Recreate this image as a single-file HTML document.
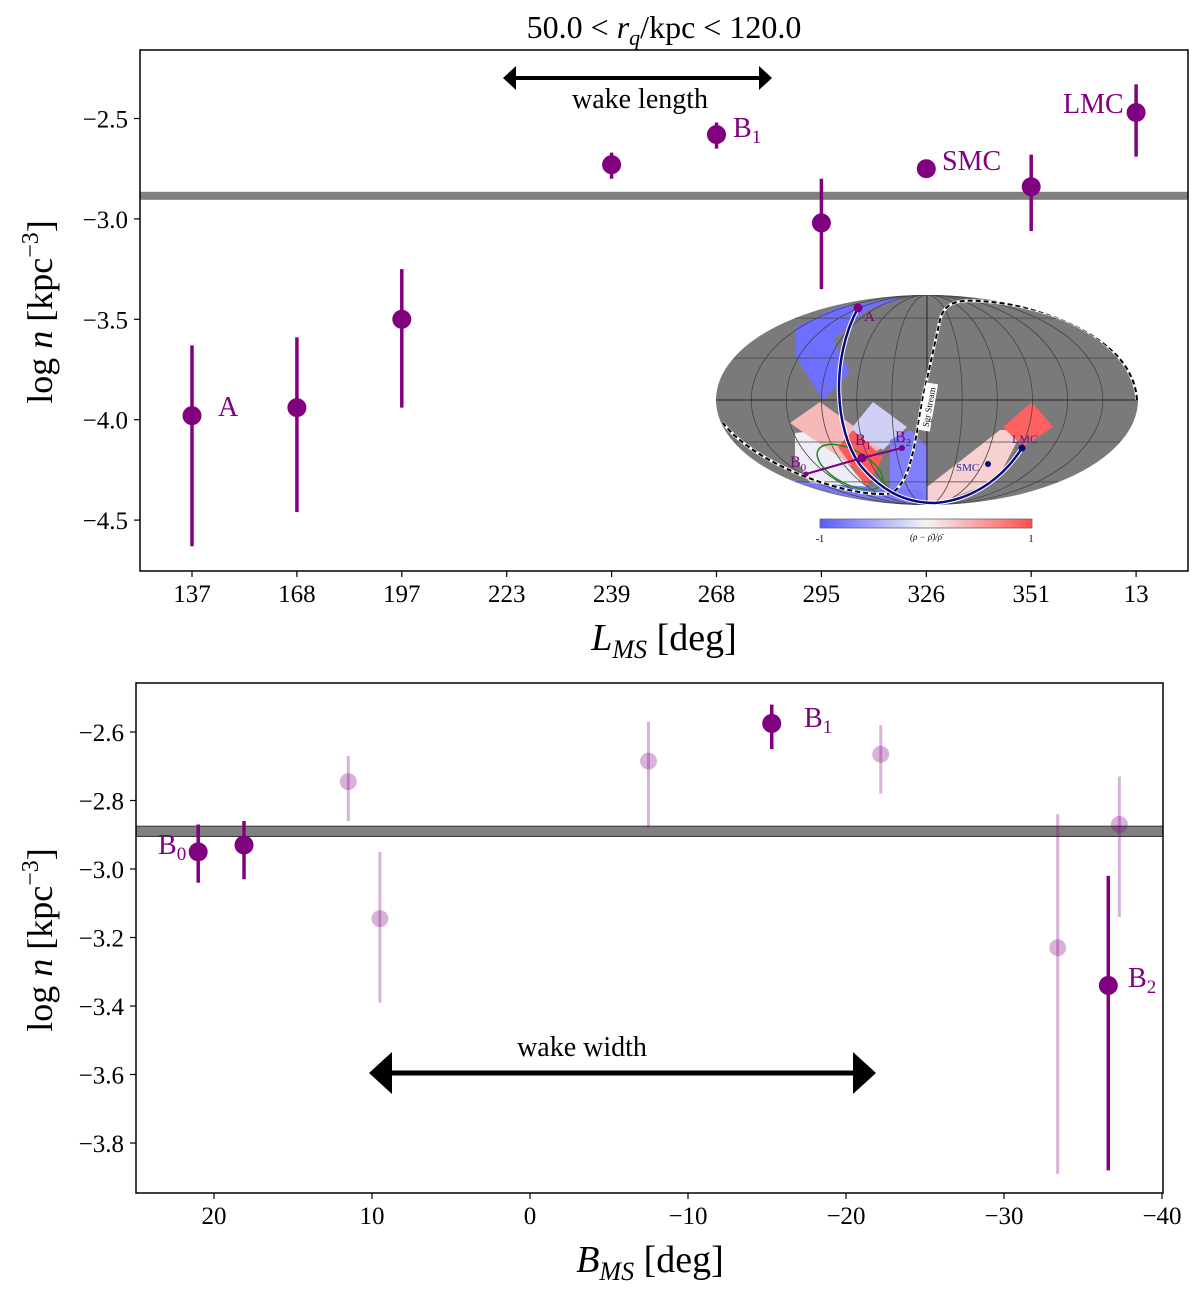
<!DOCTYPE html>
<html><head><meta charset="utf-8"><style>
body{margin:0;background:#fff;}
svg text{font-family:"Liberation Serif",serif;}
</style></head><body>
<svg id="fig" width="1200" height="1292" viewBox="0 0 1200 1292" xmlns="http://www.w3.org/2000/svg">
<g id="top"></g><g id="inset"></g><g id="bot"></g>
</svg>
<script>
// Top panel data
const topCats = ["137","168","197","223","239","268","295","326","351","13"];
const topIdx = [0,1,2,4,5,6,7,8,9];
const topVal = [-3.98,-3.94,-3.50,-2.73,-2.58,-3.02,-2.75,-2.84,-2.47];
const topHi  = [-3.63,-3.59,-3.25,-2.67,-2.52,-2.80,-2.75,-2.68,-2.33];
const topLo  = [-4.63,-4.46,-3.94,-2.80,-2.65,-3.35,-2.75,-3.06,-2.69];
const topYTicks = [-2.5,-3.0,-3.5,-4.0,-4.5];
const topYLabels = ["−2.5","−3.0","−3.5","−4.0","−4.5"];
const topBand = [-2.865,-2.905];
// Bottom panel data
const botB   = [21.0,18.1,-15.3,-36.6];
const botVal = [-2.95,-2.93,-2.575,-3.34];
const botHi  = [-2.87,-2.86,-2.52,-3.02];
const botLo  = [-3.04,-3.03,-2.65,-3.88];
const fadeB   = [11.5,9.5,-7.5,-22.2,-33.4,-37.3];
const fadeVal = [-2.745,-3.145,-2.685,-2.665,-3.23,-2.87];
const fadeHi  = [-2.67,-2.95,-2.57,-2.58,-2.84,-2.73];
const fadeLo  = [-2.86,-3.39,-2.88,-2.78,-3.89,-3.14];
const botXTicks = [20,10,0,-10,-20,-30,-40];
const botXLabels = ["20","10","0","−10","−20","−30","−40"];
const botYTicks = [-2.6,-2.8,-3.0,-3.2,-3.4,-3.6,-3.8];
const botYLabels = ["−2.6","−2.8","−3.0","−3.2","−3.4","−3.6","−3.8"];
const botBand = [-2.875,-2.905];

const NS="http://www.w3.org/2000/svg";
function mk(parent,tag,attrs,text){const e=document.createElementNS(NS,tag);for(const k in attrs)e.setAttribute(k,attrs[k]);if(text!==undefined)e.textContent=text;parent.appendChild(e);return e;}
const PURPLE="#800080";

// ---- Top panel
const T=document.getElementById('top');
const tx=i=>192+104.9*i;
const ty=v=>118.5+(-2.5-v)*200.8;
let e;
e=mk(T,'text',{x:664,y:38,'font-size':32,'text-anchor':'middle'});


e.innerHTML='50.0 &lt; <tspan font-style="italic">r</tspan><tspan font-style="italic" font-size="22" dy="7">q</tspan><tspan dy="-7">/kpc &lt; 120.0</tspan>';
e=mk(T,'rect',{x:140,y:ty(topBand[0]),width:1048,height:ty(topBand[1])-ty(topBand[0]),fill:'#808080'});


topYTicks.forEach((v,i)=>{
  const l=mk(T,'line',{x1:134,x2:140,y1:ty(v),y2:ty(v),stroke:'#000','stroke-width':1.2});
  
  
  const t=mk(T,'text',{x:128,y:ty(v)+9,'font-size':25,'text-anchor':'end'},topYLabels[i]);
  
  
});
topCats.forEach((c,i)=>{
  const l=mk(T,'line',{x1:tx(i),x2:tx(i),y1:571,y2:577,stroke:'#000','stroke-width':1.2});
  
  
  const t=mk(T,'text',{x:tx(i),y:602,'font-size':25,'text-anchor':'middle'},c);
  
  
});
topIdx.forEach((ci,k)=>{
  const x=tx(ci);
  if(topHi[k]!==topLo[k]){
    const l=mk(T,'line',{x1:x,x2:x,y1:ty(topHi[k]),y2:ty(topLo[k]),stroke:PURPLE,'stroke-width':3.5});
    
    
  }
  const c=mk(T,'circle',{cx:x,cy:ty(topVal[k]),r:9.5,fill:PURPLE});
  
  
});
[['A',218,416],['LMC',1063,113],['SMC',942,170]].forEach(a=>{
  const t=mk(T,'text',{x:a[1],y:a[2],'font-size':28,fill:PURPLE},a[0]);
  
  
});
e=mk(T,'text',{x:733,y:137,'font-size':28,fill:PURPLE});


e.innerHTML='B<tspan font-size="19" dy="6">1</tspan>';
// wake length arrow
e=mk(T,'g',{});


mk(e,'line',{x1:512,x2:762,y1:78,y2:78,stroke:'#000','stroke-width':4});
mk(e,'polygon',{points:'503,78 516,66 516,90',fill:'#000'});
mk(e,'polygon',{points:'772,78 759,66 759,90',fill:'#000'});
e=mk(T,'text',{x:640,y:108,'font-size':28,'text-anchor':'middle'},'wake length');


e=mk(T,'rect',{x:140,y:50,width:1048,height:521,fill:'none',stroke:'#000','stroke-width':1.5});


e=mk(T,'text',{x:664,y:650,'font-size':38,'text-anchor':'middle'});


e.innerHTML='<tspan font-style="italic">L</tspan><tspan font-style="italic" font-size="26" dy="8">MS</tspan><tspan dy="-8"> [deg]</tspan>';
e=mk(T,'text',{x:0,y:0,'font-size':36,'text-anchor':'middle',transform:'translate(52,312) rotate(-90)'});


e.innerHTML='log <tspan font-style="italic">n</tspan> [kpc<tspan font-size="24" dy="-14">−3</tspan><tspan dy="14">]</tspan>';

// ---- Inset
const I=document.getElementById('inset');


const cx=927,cy=400,rx=211,ry=105;
mk(I,'defs',{}).innerHTML='<clipPath id="ec"><ellipse cx="927" cy="400" rx="211" ry="105"/></clipPath><linearGradient id="cb"><stop offset="0" stop-color="#5a5aff"/><stop offset="0.5" stop-color="#f4f4f4"/><stop offset="1" stop-color="#ff4f4f"/></linearGradient>';
e=mk(I,'ellipse',{cx,cy,rx,ry,fill:'#7a7a7a'});


const pg=mk(I,'g',{'clip-path':'url(#ec)'});
[['796,327 837,307 910,296 867,310 833,340 850,372 823,400 796,357','#6e6eff'],
 ['795,433 820,430 867,487 810,483 795,457','#eeeef8'],
 ['790,423 820,402 883,447 853,467','#f7b8b8'],
 ['850,430 873,402 907,427 883,450','#d0d0f6'],
 ['838,447 853,430 883,457 867,487','#ff5a5a'],
 ['890,440 910,430 927,447 927,503 890,497','#8080ff'],
 ['777,477 810,483 923,490 923,505 850,497','#7878ff'],
 ['927,487 1000,430 1023,430 997,480 940,503 927,505','#f8d0d0'],
 ['1003,427 1032,402 1053,427 1023,447','#ff6060']
].forEach(p=>{const q=mk(pg,'polygon',{points:p[0],fill:p[1]});
  
  });
const gg=mk(I,'g',{'clip-path':'url(#ec)',fill:'none',stroke:'#444','stroke-width':0.8});
for(let k=1;k<=5;k++){mk(gg,'ellipse',{cx,cy,rx:rx*k/6,ry});}
[0.40,0.78].forEach(f=>{[1,-1].forEach(s=>{const w=rx*Math.sqrt(1-f*f);mk(gg,'line',{x1:cx-w,x2:cx+w,y1:cy+s*f*ry,y2:cy+s*f*ry});});});
mk(I,'line',{x1:cx-rx,x2:cx+rx,y1:cy,y2:cy,stroke:'#222','stroke-width':1});
mk(I,'line',{x1:cx,x2:cx,y1:cy-ry,y2:cy+ry,stroke:'#222','stroke-width':1});
e=mk(I,'path',{d:'M1137,400 C1135,360 1090,315 1000,303 C960,298 945,300 940,320 L923,397 C915,440 912,480 892,493 C860,500 760,470 723,423',fill:'none',stroke:'#fff','stroke-width':3,'clip-path':'url(#ec)'});


mk(I,'path',{d:'M1137,400 C1135,360 1090,315 1000,303 C960,298 945,300 940,320 L923,397 C915,440 912,480 892,493 C860,500 760,470 723,423',fill:'none',stroke:'#000','stroke-width':2,'stroke-dasharray':'5,3','clip-path':'url(#ec)'});
e=mk(I,'g',{transform:'translate(928,407) rotate(-80)'});


mk(e,'rect',{x:-24,y:-6,width:48,height:12,fill:'#fff'});
mk(e,'text',{x:0,y:4,'font-size':9,'text-anchor':'middle'},'Sgr Stream');
e=mk(I,'ellipse',{cx:850,cy:467,rx:36,ry:17,transform:'rotate(28 850 467)',fill:'none',stroke:'#1a8a1a','stroke-width':1.5});


mk(I,'path',{d:'M858,308 C830,360 835,430 860,465 C885,495 910,503 935,503 C975,500 1005,475 1022,448',fill:'none',stroke:'#fff','stroke-width':4.5});
e=mk(I,'path',{d:'M858,308 C830,360 835,430 860,465 C885,495 910,503 935,503 C975,500 1005,475 1022,448',fill:'none',stroke:'#0a0a80','stroke-width':2.5});


e=mk(I,'polyline',{points:'806,474 862,458 902,448',fill:'none',stroke:PURPLE,'stroke-width':2});


[[806,474,2.5,PURPLE],[862,458,4.5,PURPLE],[902,448,3,PURPLE],[858,308,4.5,PURPLE],[988,464,3,'#0a0a80'],[1022,448,3.5,'#0a0a80']].forEach(d=>{
  const c=mk(I,'circle',{cx:d[0],cy:d[1],r:d[2],fill:d[3]});
  
  
});
[['A',864,321,15,PURPLE],['LMC',1012,443,12,'#2a2a9a'],['SMC',956,471,11,'#2a2a9a']].forEach(a=>{
  const t=mk(I,'text',{x:a[1],y:a[2],'font-size':a[3],fill:a[4]},a[0]);
  
  
});
[['0',790,467],['1',855,445],['2',895,442]].forEach(a=>{
  const t=mk(I,'text',{x:a[1],y:a[2],'font-size':16,fill:PURPLE});
  
  
  t.innerHTML='B<tspan font-size="11" dy="4">'+a[0]+'</tspan>';
});
e=mk(I,'rect',{x:820,y:519,width:212,height:9,fill:'url(#cb)',stroke:'#666','stroke-width':0.8});


mk(I,'text',{x:820,y:542,'font-size':10,'text-anchor':'middle'},'-1');
mk(I,'text',{x:1031,y:542,'font-size':10,'text-anchor':'middle'},'1');
mk(I,'text',{x:926,y:540,'font-size':9,'text-anchor':'middle','font-style':'italic'},'(ρ − ρ̄)/ρ̄');

// ---- Bottom panel
const B=document.getElementById('bot');
const bx=b=>530-15.8*b;
const by=v=>732+(-2.6-v)*342.5;
e=mk(B,'rect',{x:136,y:by(botBand[0]),width:1027,height:by(botBand[1])-by(botBand[0]),fill:'#808080',stroke:'#333','stroke-width':1});


botYTicks.forEach((v,i)=>{
  const l=mk(B,'line',{x1:130,x2:136,y1:by(v),y2:by(v),stroke:'#000','stroke-width':1.2});
  
  
  const t=mk(B,'text',{x:124,y:by(v)+9,'font-size':25,'text-anchor':'end'},botYLabels[i]);
  
  
});
botXTicks.forEach((v,i)=>{
  const l=mk(B,'line',{x1:bx(v),x2:bx(v),y1:1193,y2:1199,stroke:'#000','stroke-width':1.2});
  
  
  const t=mk(B,'text',{x:bx(v),y:1224,'font-size':25,'text-anchor':'middle'},botXLabels[i]);
  
  
});
fadeB.forEach((b,k)=>{
  const l=mk(B,'line',{x1:bx(b),x2:bx(b),y1:by(fadeHi[k]),y2:by(fadeLo[k]),stroke:PURPLE,'stroke-width':3,'stroke-opacity':0.3});
  
  
  const c=mk(B,'circle',{cx:bx(b),cy:by(fadeVal[k]),r:8.5,fill:PURPLE,'fill-opacity':0.3});
  
  
});
botB.forEach((b,k)=>{
  const l=mk(B,'line',{x1:bx(b),x2:bx(b),y1:by(botHi[k]),y2:by(botLo[k]),stroke:PURPLE,'stroke-width':3.5});
  
  
  const c=mk(B,'circle',{cx:bx(b),cy:by(botVal[k]),r:9.5,fill:PURPLE});
  
  
});
[['0',158,854],['1',804,727],['2',1128,987]].forEach(a=>{
  const t=mk(B,'text',{x:a[1],y:a[2],'font-size':28,fill:PURPLE});
  
  
  t.innerHTML='B<tspan font-size="19" dy="6">'+a[0]+'</tspan>';
});
e=mk(B,'g',{});


mk(e,'line',{x1:385,x2:860,y1:1073,y2:1073,stroke:'#000','stroke-width':5});
mk(e,'polygon',{points:'369,1073 392,1052 392,1094',fill:'#000'});
mk(e,'polygon',{points:'876,1073 853,1052 853,1094',fill:'#000'});
e=mk(B,'text',{x:582,y:1056,'font-size':28,'text-anchor':'middle'},'wake width');


e=mk(B,'rect',{x:136,y:683,width:1027,height:510,fill:'none',stroke:'#000','stroke-width':1.5});


e=mk(B,'text',{x:650,y:1272,'font-size':38,'text-anchor':'middle'});


e.innerHTML='<tspan font-style="italic">B</tspan><tspan font-style="italic" font-size="26" dy="8">MS</tspan><tspan dy="-8"> [deg]</tspan>';
e=mk(B,'text',{x:0,y:0,'font-size':36,'text-anchor':'middle',transform:'translate(52,940) rotate(-90)'});


e.innerHTML='log <tspan font-style="italic">n</tspan> [kpc<tspan font-size="24" dy="-14">−3</tspan><tspan dy="14">]</tspan>';
</script>
</body></html>
